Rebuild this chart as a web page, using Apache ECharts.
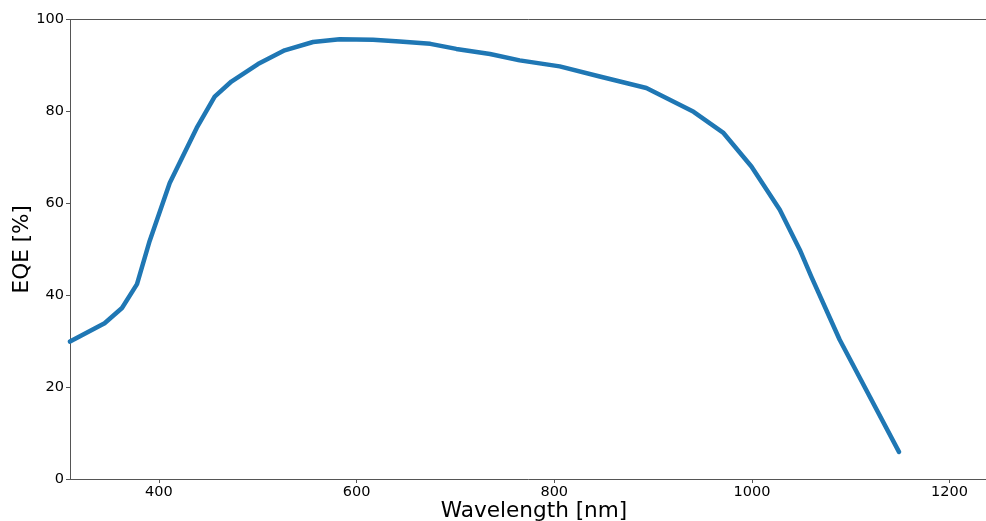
<!DOCTYPE html>
<html>
<head>
<meta charset="utf-8">
<script src="https://cdn.jsdelivr.net/npm/echarts@6/dist/echarts.min.js"></script>
<style>html,body{margin:0;padding:0;background:#fff}#c{width:986px;height:521px}</style>
</head>
<body>
<div id="c"></div>
<script>
const wavelength = [310, 345, 362.6, 377.8, 390.6, 410.9, 438.2, 456.4, 473.3, 500.2, 527.2, 555.9, 582.9, 616.6, 643.6, 674.6, 700.9, 735, 765, 805.5, 846, 893.2, 941, 970.8, 999.5, 1028.2, 1048.4, 1060.2, 1088.8, 1148.8];
const eqe = [29.9, 33.9, 37.2, 42.4, 51.8, 64.4, 76.4, 83.2, 86.5, 90.3, 93.3, 95.1, 95.7, 95.6, 95.2, 94.7, 93.6, 92.5, 91.1, 89.8, 87.6, 85.1, 79.9, 75.4, 68.0, 58.6, 49.9, 44.0, 30.3, 5.9];
const xTicks = [400, 600, 800, 1000, 1200];
const yTicks = [0, 20, 40, 60, 80, 100];

const font = 'DejaVu Sans';
const axisCol = '#555';
const chart = echarts.init(document.getElementById('c'), null, {renderer: 'canvas'});
chart.setOption({
  animation: false,
  grid: {left: 70, right: -12, top: 19.5, bottom: 42, containLabel: false, outerBoundsMode: 'none'},
  xAxis: [{
    type: 'value', min: 310, max: 1249, position: 'bottom',
    name: 'Wavelength [nm]', nameLocation: 'middle', nameGap: 21, nameMoveOverlap: false,
    nameTextStyle: {fontFamily: font, fontSize: 21.6, color: '#000', verticalAlign: 'top'},
    axisLine: {show: true, lineStyle: {color: axisCol, width: 1}},
    axisTick: {show: true, length: 4, lineStyle: {color: axisCol}, customValues: xTicks},
    axisLabel: {fontFamily: font, fontSize: 14.5, color: '#000', margin: 6, customValues: xTicks, formatter: v => String(v)},
    splitLine: {show: false}
  }, {
    type: 'value', min: 310, max: 1249, position: 'top',
    axisLine: {show: true, onZero: false, lineStyle: {color: axisCol, width: 1}},
    axisTick: {show: false}, axisLabel: {show: false}, splitLine: {show: false}
  }],
  yAxis: {
    type: 'value', min: 0, max: 100, interval: 20,
    name: 'EQE [%]', nameLocation: 'middle', nameGap: 37, nameRotate: 90, nameMoveOverlap: false,
    nameTextStyle: {fontFamily: font, fontSize: 21.6, color: '#000'},
    axisLine: {show: true, lineStyle: {color: axisCol, width: 1}},
    axisTick: {show: true, length: 4, lineStyle: {color: axisCol}},
    axisLabel: {fontFamily: font, fontSize: 14.5, color: '#000', margin: 6, customValues: yTicks, formatter: v => String(v)},
    splitLine: {show: false}
  },
  series: [{
    type: 'line', xAxisIndex: 0,
    data: wavelength.map((w, i) => [w, eqe[i]]),
    showSymbol: false, symbol: 'none',
    lineStyle: {color: '#1f77b4', width: 4.5, cap: 'round', join: 'round'}
  }]
});
</script>
</body>
</html>
